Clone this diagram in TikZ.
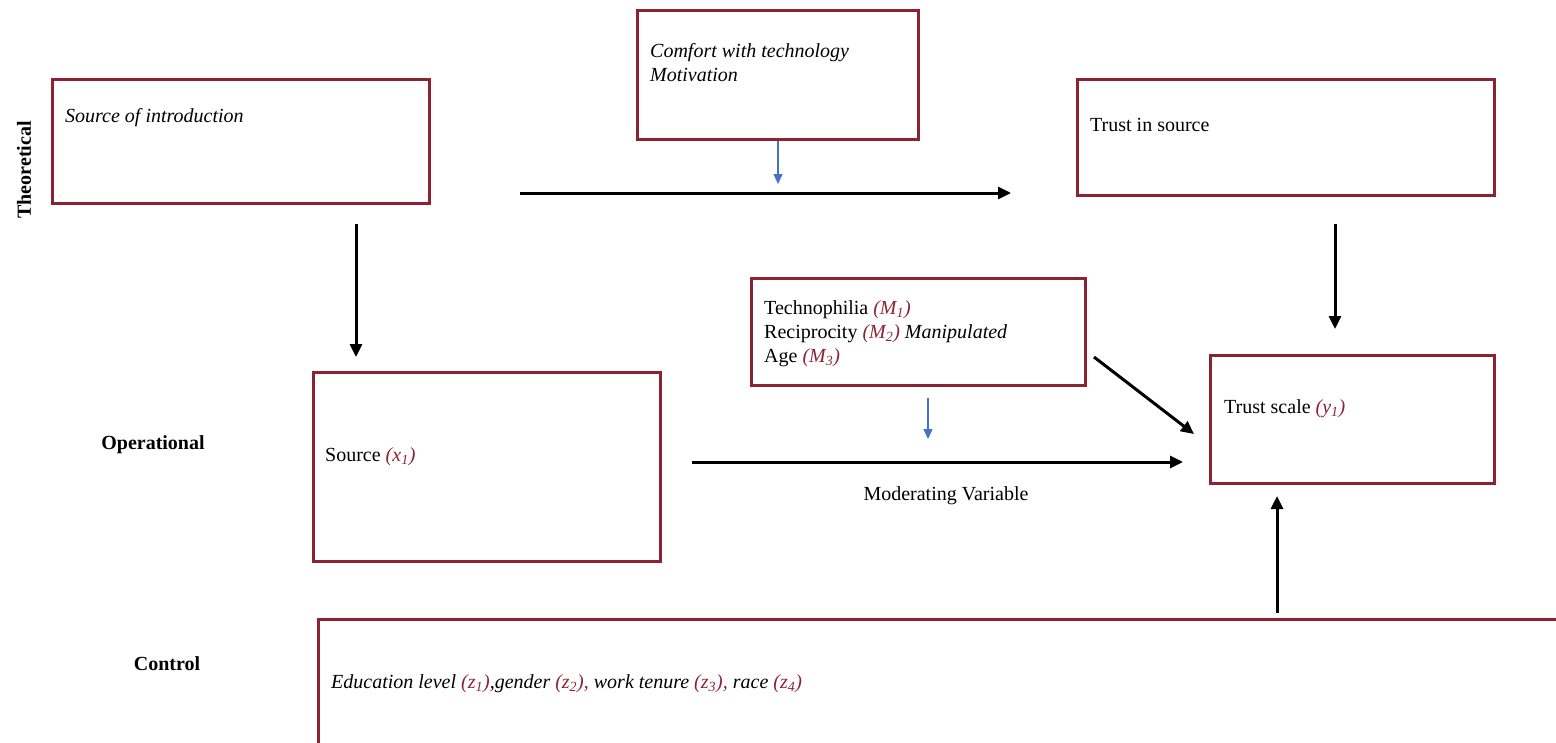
\documentclass[tikz,border=0pt]{standalone}
\usepackage{fontspec}
\setmainfont{Liberation Serif}
\usetikzlibrary{arrows.meta}
\definecolor{boxred}{HTML}{8C2332}
\definecolor{varred}{HTML}{8C2332}
\definecolor{bluearr}{HTML}{4472C4}
\newcommand{\vr}[2]{{\color{varred}\itshape(#1\textsubscript{#2})}}
\tikzset{
  box/.style={draw=boxred, line width=3pt, inner sep=0pt},
  txt/.style={anchor=base west, inner sep=0pt, font=\fontsize{20}{24}\selectfont, align=left},
  lab/.style={inner sep=0pt, font=\fontsize{20}{24}\selectfont\bfseries},
  bigarrow/.style={line width=3pt, -{Triangle[length=13pt,width=12pt]}},
  smallarrow/.style={draw=bluearr, line width=1.3pt, -{Triangle[length=10pt,width=9pt]}},
}
\begin{document}
\begin{tikzpicture}[x=1pt,y=-1pt]
\useasboundingbox (0,0) rectangle (1556,742);
% boxes
\draw[box] (52,79) rectangle (429,203);
\node (introbox) at (240.5,141) {};
\draw[box] (637,10) rectangle (918,139);
\node (comfortbox) at (777.5,74.5) {};
\draw[box] (1077,79) rectangle (1494,195);
\node (trustbox) at (1285.5,137) {};
\draw[box] (751,278) rectangle (1085,385);
\node (modbox) at (918,331.5) {};
\draw[box] (313,372) rectangle (660,561);
\node (srcbox) at (486.5,466.5) {};
\draw[box] (1210,355) rectangle (1494,483);
\node (scalebox) at (1352,419) {};
\draw[box] (318,745) -- (318,619.5) -- (1560,619.5);
% texts (multi-line nodes: base = last line)
\node[txt] (intro) at (65,122) {\itshape Source of introduction};
\node[txt] (comfort) at (650,81) {\itshape Comfort with technology\\\itshape Motivation};
\node[txt] (trust) at (1090,131) {Trust in source};
\node[txt] (mod) at (764,362) {Technophilia \vr{M}{1}\\Reciprocity \vr{M}{2} \itshape Manipulated\\Age \vr{M}{3}};
\node[txt] (src) at (325,461) {Source \vr{x}{1}};
\node[txt] (scale) at (1224,413) {Trust scale \vr{y}{1}};
\node[txt] (ctrl) at (331,688) {\itshape Education level \vr{z}{1},gender {\color{varred}\itshape(z\textsubscript{2}),} work tenure {\color{varred}\itshape(z\textsubscript{3}),} race \vr{z}{4}};
\node[txt, anchor=base] (modvar) at (946,500) {Moderating Variable};
% side labels
\node[lab, rotate=90] (theo) at (24,170) {Theoretical};
\node[lab] (oper) at (153,445) {Operational};
\node[lab] (contr) at (167,664) {Control};
% arrow end points
\coordinate (a1s) at (520,193); \coordinate (a1e) at (1011,193);
\coordinate (b1s) at (778,141); \coordinate (b1e) at (778,184);
\coordinate (a2s) at (356,224); \coordinate (a2e) at (356,357);
\coordinate (a3s) at (1335,224); \coordinate (a3e) at (1335,329);
\coordinate (b2s) at (928,398); \coordinate (b2e) at (928,439);
\coordinate (a4s) at (692,462); \coordinate (a4e) at (1183,462);
\coordinate (a5s) at (1094,357); \coordinate (a5e) at (1194,434);
\coordinate (a6s) at (1277,613); \coordinate (a6e) at (1277,496);
\draw[bigarrow] (a1s) -- (a1e);
\draw[smallarrow] (b1s) -- (b1e);
\draw[bigarrow] (a2s) -- (a2e);
\draw[bigarrow] (a3s) -- (a3e);
\draw[smallarrow] (b2s) -- (b2e);
\draw[bigarrow] (a4s) -- (a4e);
\draw[bigarrow] (a5s) -- (a5e);
\draw[bigarrow] (a6s) -- (a6e);
\end{tikzpicture}
\end{document}
